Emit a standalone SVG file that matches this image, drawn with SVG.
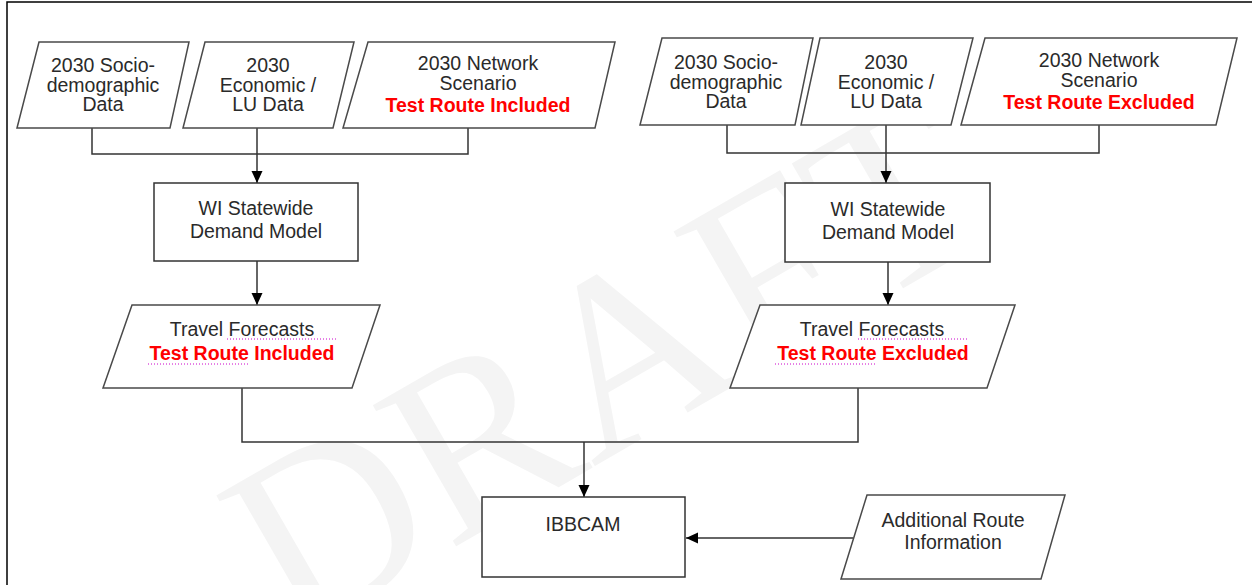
<svg xmlns="http://www.w3.org/2000/svg" width="1252" height="585" viewBox="0 0 1252 585">
<defs>
<marker id="arr" markerUnits="userSpaceOnUse" markerWidth="13" markerHeight="12" refX="12" refY="5.5" orient="auto">
<path d="M0,0 L12,5.5 L0,11 Z" fill="#000"/>
</marker>
<style>
.sh{fill:#fff;stroke:#4a4a4a;stroke-width:1.5}
.bx{fill:#fff;stroke:#333;stroke-width:1.5}
.t{font-family:"Liberation Sans",Arial,sans-serif;font-size:19.5px;fill:#2a2a2a;text-anchor:middle}
.r{fill:#f00;font-weight:bold}
.c{fill:none;stroke:#333;stroke-width:1.5}
.u{stroke:#c0c;stroke-width:1;stroke-dasharray:1 2}
.wm{font-family:"Liberation Serif","Times New Roman",serif;font-size:250px;fill:#f4f4f4;text-anchor:middle}
</style>
</defs>
<rect width="1252" height="585" fill="#fff"/>
<text class="wm" transform="translate(647,436) rotate(-30)">DRAFT</text>
<path d="M7,585 V2 H1252" fill="none" stroke="#000" stroke-width="1.5"/>

<g id="connectors">
<path class="c" d="M92,128 V154 H468 V128"/>
<path class="c" d="M257,128 V183" marker-end="url(#arr)"/>
<path class="c" d="M257,261 V305" marker-end="url(#arr)"/>
<path class="c" d="M727,125 V153 H1099 V125"/>
<path class="c" d="M886,125 V183" marker-end="url(#arr)"/>
<path class="c" d="M888,262 V305" marker-end="url(#arr)"/>
<path class="c" d="M242,388 V442 H858 V388"/>
<path class="c" d="M584,442 V497" marker-end="url(#arr)"/>
<path class="c" d="M853,538 H686" marker-end="url(#arr)"/>
</g>

<g id="socio-left">
<polygon class="sh" points="39,42 189,42 170,128 17,128"/>
<text class="t" x="103" y="72">2030 Socio-</text>
<text class="t" x="103" y="92">demographic</text>
<text class="t" x="103" y="111">Data</text>
</g>
<g id="econ-left">
<polygon class="sh" points="205,42 354,42 333,128 183,128"/>
<text class="t" x="268" y="72">2030</text>
<text class="t" x="268" y="92">Economic /</text>
<text class="t" x="268" y="111">LU Data</text>
</g>
<g id="network-left">
<polygon class="sh" points="368,42 615,42 595,128 343,128"/>
<text class="t" x="478" y="70">2030 Network</text>
<text class="t" x="478" y="90">Scenario</text>
<text class="t r" x="478" y="112">Test Route Included</text>
</g>
<g id="model-left">
<rect class="bx" x="154" y="183" width="204" height="78"/>
<text class="t" x="256" y="215">WI Statewide</text>
<text class="t" x="256" y="238">Demand Model</text>
</g>
<g id="forecast-left">
<polygon class="sh" points="132,305 380,305 352,388 103,388"/>
<text class="t" x="242" y="336">Travel Forecasts</text>
<text class="t r" x="242" y="360">Test Route Included</text>
<line class="u" x1="227" y1="339" x2="338" y2="339"/>
<line class="u" x1="148" y1="364" x2="250" y2="364"/>
</g>

<g id="socio-right">
<polygon class="sh" points="662,38 813,38 795,125 640,125"/>
<text class="t" x="726" y="69">2030 Socio-</text>
<text class="t" x="726" y="89">demographic</text>
<text class="t" x="726" y="108">Data</text>
</g>
<g id="econ-right">
<polygon class="sh" points="820,38 973,38 951,125 801,125"/>
<text class="t" x="886" y="69">2030</text>
<text class="t" x="886" y="89">Economic /</text>
<text class="t" x="886" y="108">LU Data</text>
</g>
<g id="network-right">
<polygon class="sh" points="985,38 1237,38 1216,125 961,125"/>
<text class="t" x="1099" y="67">2030 Network</text>
<text class="t" x="1099" y="87">Scenario</text>
<text class="t r" x="1099" y="109">Test Route Excluded</text>
</g>
<g id="model-right">
<rect class="bx" x="785" y="183" width="205" height="79"/>
<text class="t" x="888" y="216">WI Statewide</text>
<text class="t" x="888" y="239">Demand Model</text>
</g>
<g id="forecast-right">
<polygon class="sh" points="760,305 1015,305 987,388 730,388"/>
<text class="t" x="872" y="336">Travel Forecasts</text>
<text class="t r" x="873" y="360">Test Route Excluded</text>
<line class="u" x1="858" y1="339" x2="968" y2="339"/>
<line class="u" x1="775" y1="364" x2="877" y2="364"/>
</g>

<g id="ibbcam">
<rect class="bx" x="482" y="497" width="203" height="80"/>
<text class="t" x="583" y="531">IBBCAM</text>
</g>
<g id="additional">
<polygon class="sh" points="867,495 1065,495 1041,579 841,579"/>
<text class="t" x="953" y="527">Additional Route</text>
<text class="t" x="953" y="549">Information</text>
</g>
</svg>
